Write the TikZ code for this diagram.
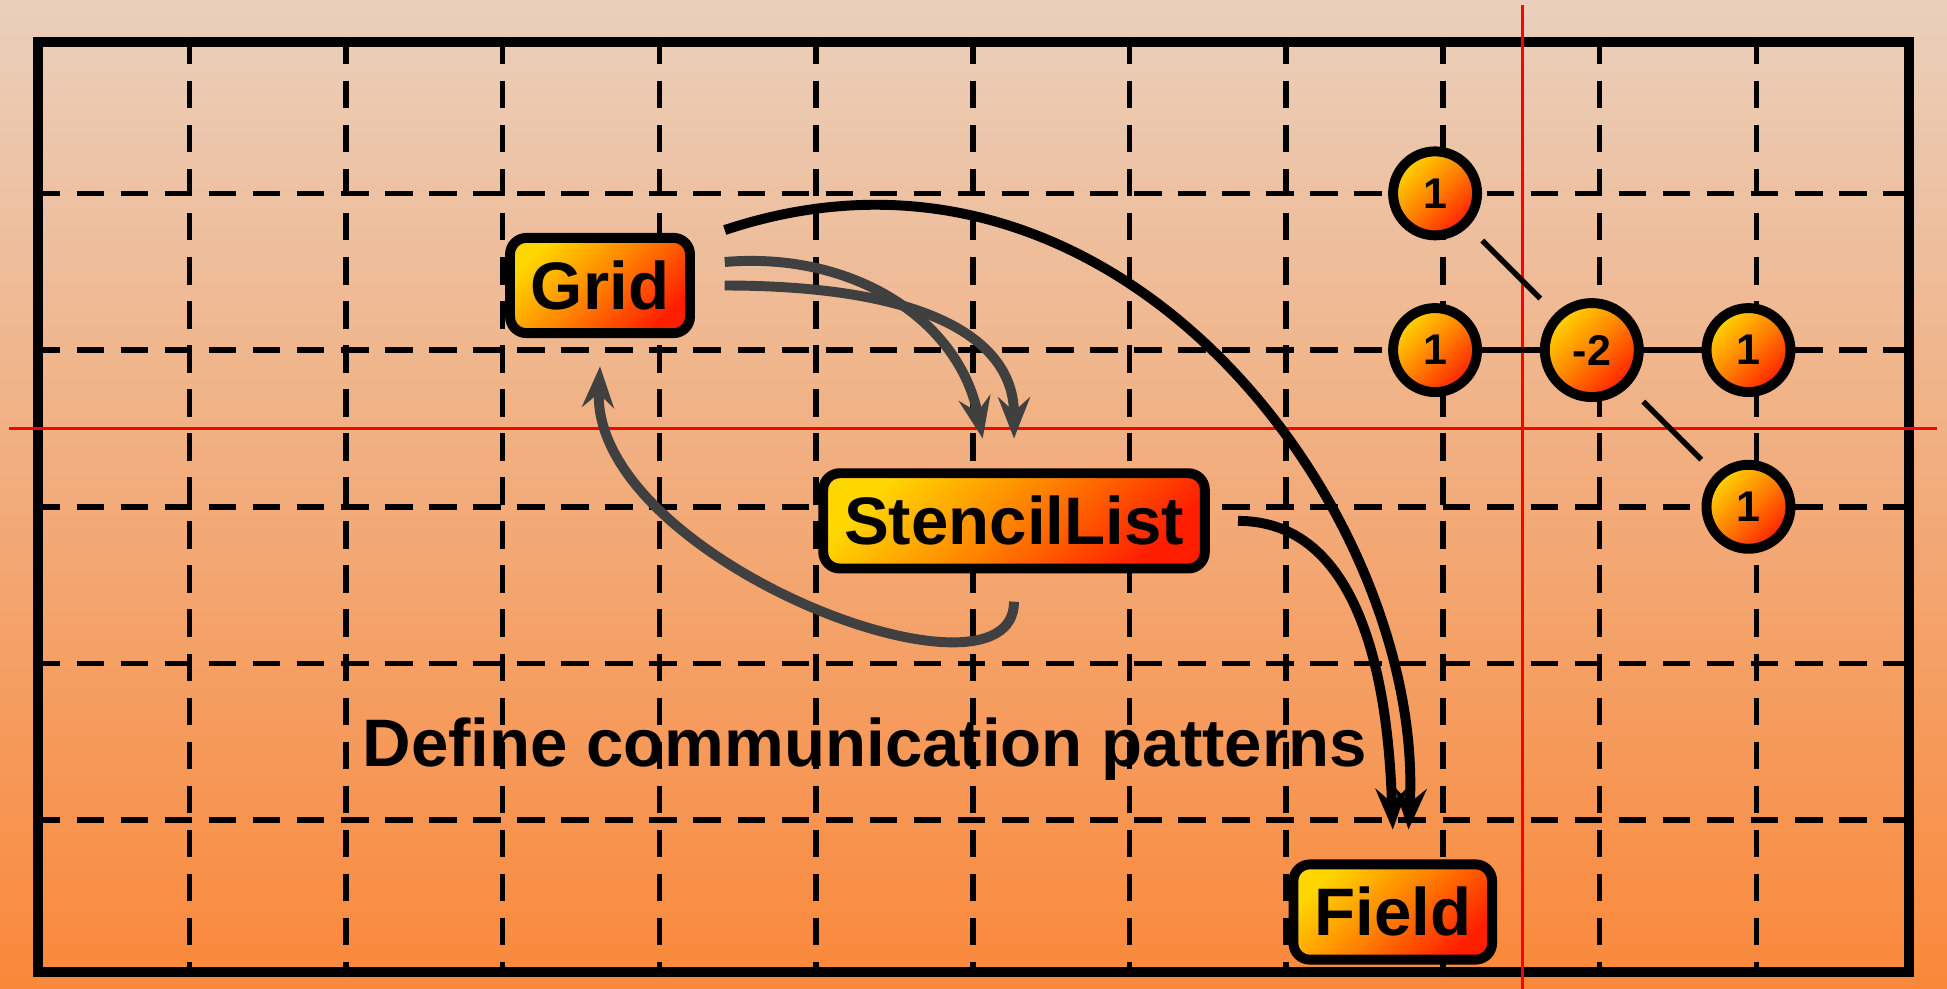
\documentclass[tikz,border=0pt]{standalone}
\usepackage{fontspec}
\setmainfont{Liberation Sans}
\usetikzlibrary{arrows.meta, calc}

\definecolor{bgtop}{RGB}{234,208,188}
\definecolor{bgbottom}{RGB}{250,136,58}
\definecolor{hotyellow}{RGB}{255,215,0}
\definecolor{hotorange}{RGB}{255,128,0}
\definecolor{hotred}{RGB}{255,30,0}
\definecolor{flowgray}{RGB}{64,64,64}

\begin{document}
\begin{tikzpicture}[x=1cm,y=1cm,
  cls/.style={draw=black, line width=1.8pt, rounded corners=3pt,
    left color=hotyellow, right color=hotred, middle color=hotorange, shading angle=45,
    inner xsep=3.8pt, inner ysep=4.3pt, text height=8.7pt, text depth=0pt,
    font=\fontsize{12.2}{14}\selectfont\bfseries},
  weight/.style={circle, draw=black, line width=1.8pt, minimum size=0.536cm, inner sep=0pt,
    left color=hotyellow, right color=hotred, middle color=hotorange, shading angle=45,
    font=\fontsize{7.8}{9}\selectfont\bfseries},
  cell/.style={line width=1pt, dash pattern=on 5pt off 3pt},
  link/.style={line width=1pt},
  flow/.style={line width=1.8pt, -{Stealth[length=7.5pt, width=5.8pt, inset=2.6pt]}}]
\useasboundingbox (-0.208,-0.0715) rectangle (12.217,6.234);
\shade[top color=bgtop, bottom color=bgbottom] (-0.208,-0.0715) rectangle (12.217,6.234);

% cells
\foreach \gy in {1,...,5}
  \draw[cell] (0,\gy) -- (12,\gy);
\foreach \gx in {1,...,11}
  \draw[cell] (\gx,6) -- (\gx,0);
\draw[line width=1.9pt] (0.034,0.031) rectangle (11.974,5.966);

% axes through the middle
\draw[red, line width=0.6pt] (-0.15,3.5) -- (12.15,3.5);
\draw[red, line width=0.6pt] (9.507,6.2) -- (9.507,-0.08);

% classes
\node[cls] (grid) at (3.621,4.412) {Grid};
\node[cls] (stencil) at (6.263,2.910) {StencilList};
\node[cls] (field) at (8.680,0.414) {Field};
\node[font=\fontsize{12.2}{14}\selectfont\bfseries, anchor=base] (caption) at (5.31,1.341) {Define communication patterns};

% stencil weights
\node[weight] (nw) at (8.95,5) {1};
\node[weight] (w) at (8.95,4) {1};
\node[weight, minimum size=0.6cm] (c) at (9.95,4) {-2};
\node[weight] (e) at (10.95,4) {1};
\node[weight] (se) at (10.95,3) {1};
\draw[link] (w) -- (c);
\draw[link] (c) -- (e);
\draw[link, shorten <=3.6pt, shorten >=3.8pt] (nw) -- (c);
\draw[link, shorten <=3.8pt, shorten >=3.6pt] (c) -- (se);

% grid -> stencil list and back
\draw[flow, flowgray] ($(grid.east)+(0.19,0.15)$) .. controls +(0.83,0.07) and +(-0.15,0.75) .. ($(stencil.north)+(-0.2,0.19)$);
\draw[flow, flowgray] ($(grid.east)+(0.19,0)$) .. controls +(1.28,0) and +(0,0.64) .. ($(stencil.north)+(0,0.19)$);
\draw[flow, flowgray] ($(stencil.south)+(0,-0.18)$) .. controls +(0,-0.755) and +(-0.06,-1.23) .. ($(grid.south)+(0,-0.18)$);

% both feed the field
\draw[flow] ($(grid.east)+(0.19,0.354)$) .. controls +(2.55,0.85) and +(0.108,1.978) .. ($(field.north)+(0.1,0.19)$);
\draw[flow] ($(stencil.east)+(0.18,0)$) .. controls +(0.64,0) and +(-0.04,1.28) .. ($(field.north)+(0,0.19)$);
\end{tikzpicture}
\end{document}
